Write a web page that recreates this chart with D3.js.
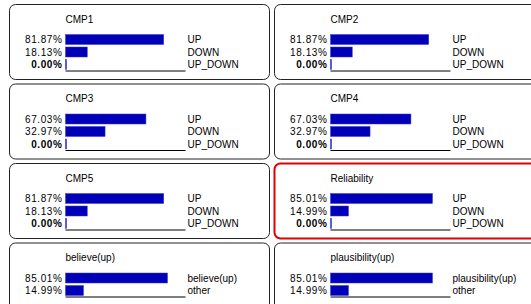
<!DOCTYPE html>
<html>
<head>
<meta charset="utf-8">
<script src="https://cdn.jsdelivr.net/npm/d3@7"></script>
<style>
  html, body { margin: 0; padding: 0; background: #fff; overflow: hidden; }
  svg { display: block; }
  svg text { font-family: "Liberation Sans", Arial, sans-serif; font-size: 10px; fill: #000; }
</style>
</head>
<body>
<div id="chart"></div>
<script>
// node names, states and beliefs (percent)
var nodes = ["CMP1", "CMP2", "CMP3", "CMP4", "CMP5", "Reliability", "believe(up)", "plausibility(up)"];
var states = [
  ["UP", "DOWN", "UP_DOWN"],
  ["UP", "DOWN", "UP_DOWN"],
  ["UP", "DOWN", "UP_DOWN"],
  ["UP", "DOWN", "UP_DOWN"],
  ["UP", "DOWN", "UP_DOWN"],
  ["UP", "DOWN", "UP_DOWN"],
  ["believe(up)", "other"],
  ["plausibility(up)", "other"]
];
var beliefs = [
  [81.87, 18.13, 0],
  [81.87, 18.13, 0],
  [67.03, 32.97, 0],
  [67.03, 32.97, 0],
  [81.87, 18.13, 0],
  [85.01, 14.99, 0],
  [85.01, 14.99],
  [85.01, 14.99]
];
var selected = "Reliability";

var W = 531, H = 304;
var svg = d3.select("#chart").append("svg")
    .attr("width", W)
    .attr("height", H);

var panelH = 75;
var x = d3.scaleLinear().domain([0, 100]).range([0, 120]);
var rowStep = 12.5, rowTop = 29;

nodes.forEach(function(name, i) {
  var col = i % 2, row = Math.floor(i / 2);
  var px = 9.5 + col * 265, py = 4.5 + row * 79.5;
  var g = svg.append("g").attr("transform", "translate(" + px + "," + py + ")");
  var isSel = name == selected;

  // right column runs off the window in the original
  g.append("rect")
      .attr("width", col == 0 ? 260 : 290)
      .attr("height", panelH)
      .attr("rx", 6)
      .attr("fill", "none")
      .attr("stroke", isSel ? "#e00000" : "#222")
      .attr("stroke-width", isSel ? 2 : 1);

  g.append("text")
      .attr("x", 56)
      .attr("y", 18)
      .text(name);

  var vals = beliefs[i];
  var y = d3.scaleBand()
      .domain(d3.range(vals.length))
      .range([rowTop, rowTop + rowStep * vals.length]);

  var bar = g.selectAll(".bar")
      .data(vals)
    .enter().append("g")
      .attr("class", "bar")
      .attr("transform", function(d, j) { return "translate(56," + y(j) + ")"; });

  bar.append("rect")
      .attr("y", 1)
      .attr("width", function(d) { return Math.max(1, x(d)); })
      .attr("height", 10)
      .attr("fill", "#0000b8")
      .attr("stroke", "#3a3ad0")
      .attr("stroke-width", 0.5);

  bar.append("text")
      .attr("x", -3)
      .attr("y", 9.5)
      .attr("text-anchor", "end")
      .style("letter-spacing", "0.6px")
      .style("font-weight", function(d) { return d == 0 ? "bold" : "normal"; })
      .text(function(d) { return d.toFixed(2) + "%"; });

  bar.append("text")
      .attr("x", 122)
      .attr("y", 9.5)
      .text(function(d, j) { return states[i][j]; });

  // baseline under the bars
  var yb = rowTop + rowStep * vals.length;
  g.append("line")
      .attr("x1", 56).attr("x2", 56 + x(100))
      .attr("y1", yb).attr("y2", yb)
      .attr("stroke", "#000");
});
</script>
</body>
</html>
